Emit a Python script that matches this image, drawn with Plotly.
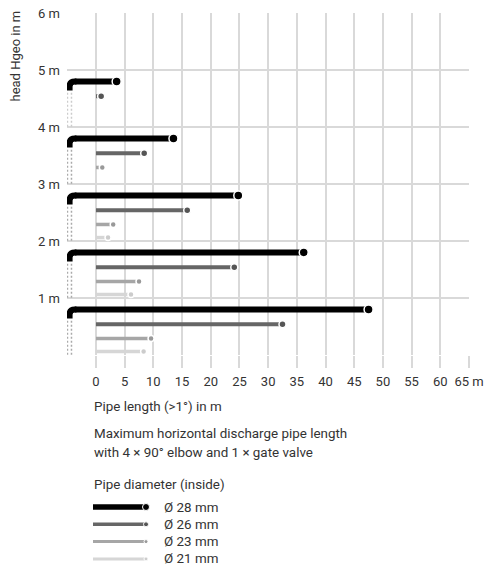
import plotly.graph_objects as go

# head levels (m) and max pipe length (m) per inside diameter
heads = [1, 2, 3, 4, 5]
len_28 = [47.5, 36.2, 24.8, 13.5, 3.6]
len_26 = [32.5, 24.1, 15.9, 8.4, 0.9]
len_23 = [9.6, 7.5, 3.0, 1.1, None]
len_21 = [8.3, 6.1, 2.1, None, None]

x_ticks = [0, 5, 10, 15, 20, 25, 30, 35, 40, 45, 50, 55, 60, 65]
x_ticktext = [str(v) for v in x_ticks[:-1]] + ["65 m"]
y_ticks = [1, 2, 3, 4, 5, 6]
y_ticktext = ["%d m" % v for v in y_ticks]

series = [
    # label, lengths, offset above group base, line colour, dot colour, width, dot size
    ("Ø 28 mm", len_28, 0.80, "#000000", "#000000", 6, 9),
    ("Ø 26 mm", len_26, 0.54, "#666666", "#555555", 4, 7),
    ("Ø 23 mm", len_23, 0.29, "#a6a6a6", "#999999", 3.5, 6),
    ("Ø 21 mm", len_21, 0.06, "#d6d6d6", "#cccccc", 3.5, 6),
]

ELBOW_X = -4.6
FONT = "Roboto"
TXT = "#333333"

fig = go.Figure()
shapes = []
annotations = []

for i, (label, lengths, off, lc, dc, lw, ms) in enumerate(series):
    xs, ys, mx, my = [], [], [], []
    for h, L in zip(heads, lengths):
        if L is None:
            continue
        y = h - 1 + off
        x0 = ELBOW_X + 0.9 if i == 0 else 0
        xs += [x0, L, None]
        ys += [y, y, None]
        mx.append(L)
        my.append(y)
    fig.add_trace(go.Scatter(x=xs, y=ys, mode="lines", line=dict(color=lc, width=lw),
                             hoverinfo="skip", showlegend=False))
    fig.add_trace(go.Scatter(x=mx, y=my, mode="markers",
                             marker=dict(color=dc, size=ms, line=dict(color="white", width=1.5)),
                             name=label, showlegend=False))

# elbows and dashed risers
for h in heads:
    yb = h - 1 + series[0][2]
    dash_col = "#cccccc" if h == 5 else "#aaaaaa"
    for dx in (-0.37, 0.33):
        shapes.append(dict(type="line", xref="x", yref="y", x0=ELBOW_X + dx, x1=ELBOW_X + dx,
                           y0=yb - 0.2, y1=h - 1, line=dict(color=dash_col, width=1.5, dash="2px,2px")))
    path = "M %f,%f L %f,%f Q %f,%f %f,%f L %f,%f" % (
        ELBOW_X, yb - 0.16, ELBOW_X, yb - 0.09, ELBOW_X, yb, ELBOW_X + 0.9, yb, ELBOW_X + 1.2, yb)
    shapes.append(dict(type="path", xref="x", yref="y", path=path,
                       line=dict(color="#000000", width=6)))

# screen pixel -> paper helpers (plot area 67..469 x, 13..355 y)
def px(x):
    return (x - 67) / 402.0

def py(y):
    return (355 - y) / 342.0

def text(x, y, s, size=13.4, **kw):
    annotations.append(dict(xref="paper", yref="paper", x=px(x), y=py(y), text=s, showarrow=False,
                            xanchor="left", yanchor="middle", font=dict(family=FONT, size=size, color=TXT), **kw))

text(92, 406, "Pipe length (>1°) in m")
text(92, 433, "Maximum horizontal discharge pipe length")
text(92, 452, "with 4 × 90° elbow and 1 × gate valve")
text(92, 484, "Pipe diameter (inside)")

annotations.append(dict(xref="paper", yref="paper", x=px(15), y=py(9), text="head Hgeo in m",
                        textangle=-90, showarrow=False, xanchor="center", yanchor="top",
                        font=dict(family=FONT, size=13, color=TXT)))

for k, (label, lengths, off, lc, dc, lw, ms) in enumerate(series):
    yy = 507 + k * 17.3
    shapes.append(dict(type="line", xref="paper", yref="paper", x0=px(93), x1=px(146),
                       y0=py(yy), y1=py(yy), line=dict(color=lc, width=lw - 0.5)))
    r = (ms - 2) / 2.0
    shapes.append(dict(type="circle", xref="paper", yref="paper", xsizemode="pixel", ysizemode="pixel",
                       xanchor=px(146), yanchor=py(yy), x0=-r, x1=r, y0=-r, y1=r,
                       fillcolor=dc, line=dict(color="white", width=1)))
    text(162, yy, label)

fig.update_layout(
    width=499, height=565,
    margin=dict(l=67, r=30, t=13, b=210, autoexpand=False),
    paper_bgcolor="white", plot_bgcolor="white",
    font=dict(family=FONT, size=13, color=TXT),
    shapes=shapes, annotations=annotations,
    showlegend=False,
)
fig.update_xaxes(range=[-5.05, 65], tickvals=x_ticks, ticktext=x_ticktext, automargin=False,
                 showgrid=True, gridcolor="#d9d9d9", gridwidth=1.5, zeroline=False,
                 ticks="outside", ticklen=12, tickcolor="#d9d9d9", tickwidth=1.5,
                 ticklabelstandoff=2, ticklabeloverflow="allow", showline=False, fixedrange=True)
fig.update_yaxes(range=[0, 6], tickvals=[0] + y_ticks, ticktext=[""] + y_ticktext, automargin=False,
                 showgrid=True, gridcolor="#d9d9d9", gridwidth=1.5, zeroline=False,
                 ticks="", ticklabelstandoff=6, ticklabeloverflow="allow", showline=False, fixedrange=True)

# drop the default 8px page margin so the figure sits at the window's corner
fig.write_html("out.html", config={"displayModeBar": False},
               post_script="document.body.style.margin='0';")
